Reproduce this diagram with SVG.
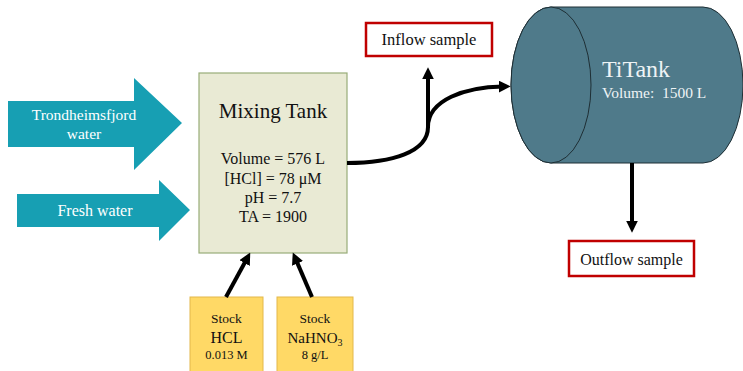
<svg xmlns="http://www.w3.org/2000/svg" width="743" height="371" viewBox="0 0 743 371">
  <defs>
    <marker id="head" markerUnits="userSpaceOnUse" markerWidth="12" markerHeight="12" viewBox="0 0 11 11" refX="4" refY="5.5" orient="auto">
      <path d="M0,0 L11,5.5 L0,11 Z" fill="#000"/>
    </marker>
    <style>
      text { font-family: "Liberation Serif", "Times New Roman", serif; text-anchor: middle; }
      .inflow { fill: #179FB3; }
      .inflow-label { fill: #ffffff; font-size: 16px; }
      .tank { fill: #E9EAD4; stroke: #98AC78; stroke-width: 1.2; }
      .stock { fill: #FFD966; stroke: #E3B84A; stroke-width: 1; }
      .sample { fill: #ffffff; stroke: #C00000; stroke-width: 2.5; }
      .dark { fill: #111; }
      .flow { fill: none; stroke: #000; stroke-width: 4; marker-end: url(#head); }
      .cyl { fill: #4F7A8A; stroke: #1E2E34; stroke-width: 1; }
      .light { fill: #EEF3F5; }
    </style>
  </defs>

  <!-- incoming water streams -->
  <g id="trondheimsfjord-water">
    <path class="inflow" d="M8,101 L134,101 L134,78 L182,123 L134,170 L134,147 L8,147 Z"/>
    <text class="inflow-label" x="84" y="120" style="font-size:15.5px">Trondheimsfjord</text>
    <text class="inflow-label" x="84" y="139" style="font-size:15.5px">water</text>
  </g>
  <g id="fresh-water">
    <path class="inflow" d="M17,194 L159,194 L159,180 L190,210 L159,241 L159,227 L17,227 Z"/>
    <text class="inflow-label" x="95" y="216">Fresh water</text>
  </g>

  <!-- mixing tank -->
  <g id="mixing-tank">
    <rect class="tank" x="199" y="73" width="148" height="180"/>
    <text class="dark" x="273" y="118" style="font-size:21px">Mixing Tank</text>
    <text class="dark" x="273" y="164" style="font-size:16px">Volume = 576 L</text>
    <text class="dark" x="273" y="184" style="font-size:16px">[HCl] = 78 μM</text>
    <text class="dark" x="273" y="203" style="font-size:16px">pH = 7.7</text>
    <text class="dark" x="273" y="222" style="font-size:16px">TA = 1900</text>
  </g>

  <!-- stock solutions -->
  <g id="stock-hcl">
    <rect class="stock" x="190" y="297" width="73" height="84"/>
    <text class="dark" x="226.5" y="323" style="font-size:13.5px">Stock</text>
    <text class="dark" x="226.5" y="343" style="font-size:16px">HCL</text>
    <text class="dark" x="226.5" y="358.5" style="font-size:12.5px">0.013 M</text>
  </g>
  <g id="stock-nahno3">
    <rect class="stock" x="277" y="297" width="76" height="84"/>
    <text class="dark" x="315" y="323" style="font-size:13.5px">Stock</text>
    <text class="dark" x="315" y="343" style="font-size:15px">NaHNO<tspan dy="3" style="font-size:10px">3</tspan></text>
    <text class="dark" x="315" y="358.5" style="font-size:12.5px">8 g/L</text>
  </g>

  <!-- sample points -->
  <g id="inflow-sample">
    <rect class="sample" x="366" y="23" width="126" height="33"/>
    <text class="dark" x="429" y="45" style="font-size:16.5px">Inflow sample</text>
  </g>
  <g id="outflow-sample">
    <rect class="sample" x="569" y="241" width="125" height="35"/>
    <text class="dark" x="631.5" y="265" style="font-size:16px">Outflow sample</text>
  </g>

  <!-- main tank -->
  <g id="titank">
    <path class="cyl" d="M551,7 L703,7 A40,78 0 0 1 703,163 L551,163 A40,78 0 0 1 551,7 Z"/>
    <ellipse class="cyl" cx="551" cy="85" rx="40" ry="78"/>
    <text class="light" x="602" y="77" style="font-size:24px;text-anchor:start">TiTank</text>
    <text class="light" x="602" y="98" style="font-size:15.5px;text-anchor:start;white-space:pre">Volume:  1500 L</text>
  </g>

  <!-- connectors -->
  <g id="connectors">
    <path class="flow" d="M226,297 L246.6,259.2"/>
    <path class="flow" d="M312,297 L295.8,259.4"/>
    <path class="flow" d="M347,163 C392,163 428,152 428,127 C428,100 465,87 503,86.5"/>
    <path class="flow" d="M428,128 L428,75"/>
    <path class="flow" d="M632,163 L632,225"/>
  </g>
</svg>
